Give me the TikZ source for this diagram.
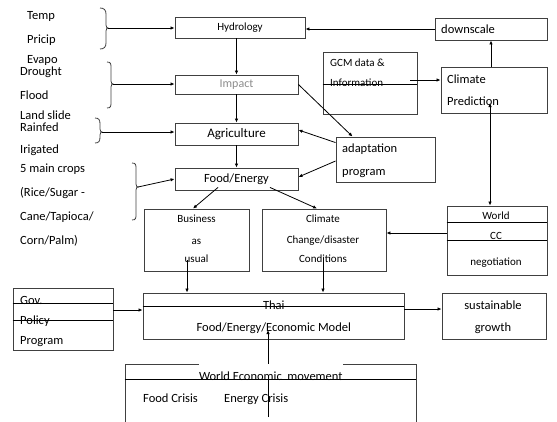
\documentclass[tikz,border=0pt]{standalone}
\usepackage{fontspec}
\setmainfont{Carlito}
\usetikzlibrary{arrows.meta,calc}
\newcommand\mkbrace[6]{% xleft, xtip, top, bottom, mid, name
  \draw[bracel] (#1,#3) .. controls ({#1+4},#3) and ({#2-2},{#3+2}) .. ({#2-2},{#3+6})
    -- ({#2-2},{#5-3}) .. controls ({#2-2},{#5-1}) and ({#2-1},#5) .. (#2,#5) coordinate (#6)
    .. controls ({#2-1},#5) and ({#2-2},{#5+1}) .. ({#2-2},{#5+3})
    -- ({#2-2},{#4-6}) .. controls ({#2-2},{#4-2}) and ({#1+4},#4) .. (#1,#4);}
\begin{document}
\begin{tikzpicture}[x=1pt,y=-1pt,
  box/.style={draw=black!75, line width=0.9pt, inner sep=0pt},
  arr/.style={draw=black, line width=0.8pt, -{Latex[length=4pt,width=3.5pt]}},
  arrb/.style={draw=black, line width=0.8pt, {Latex[length=4pt,width=3.5pt]}-{Latex[length=4pt,width=3.5pt]}},
  strike/.style={draw=black, line width=0.9pt},
  bracel/.style={draw=black!75, line width=0.8pt},
  big/.style={font=\fontsize{12.5}{14}\selectfont},
  sm/.style={font=\fontsize{11}{13}\selectfont},
  tl/.style={inner sep=0pt, anchor=base west, big},
  tc/.style={inner sep=0pt, anchor=base, big},
]
\useasboundingbox (0,0) rectangle (557,421);

% ---- left texts
\node[tl] (l1) at (27,19) {Temp};
\node[tl] (l2) at (27,43) {Pricip};
\node[tl] (l3) at (27,63.5) {Evapo};
\node[tl] (l4) at (20,75.5) {Drought};
\node[tl] (l5) at (20,99) {Flood};
\node[tl] (l6) at (20,119.5) {Land slide};
\node[tl] (l7) at (20,131) {Rainfed};
\node[tl] (l8) at (20,153) {Irigated};
\node[tl] (l9) at (20,172) {5 main crops};
\node[tl] (l10) at (20,196) {(Rice/Sugar -};
\node[tl] (l11) at (20,220) {Cane/Tapioca/};
\node[tl] (l12) at (20,244) {Corn/Palm)};

% ---- braces
\mkbrace{100}{108}{8}{49}{28}{b1}
\mkbrace{107}{113}{62}{108}{84}{b2}
\mkbrace{95}{102}{118}{143}{132}{b3}
\mkbrace{132}{138}{163}{220}{187}{b4}

% ---- boxes
\node[box, minimum width=130pt, minimum height=21pt, sm] (hyd) at (240,27.5) {Hydrology};
\node[box, minimum width=123pt, minimum height=19pt, text=black!45, font=\fontsize{12}{14}\selectfont] (imp) at (236.5,84.5) {Impact};
\node[box, minimum width=123pt, minimum height=22pt, font=\fontsize{13}{15}\selectfont] (agr) at (236.5,134) {Agriculture};
\node[box, minimum width=123pt, minimum height=22pt, big] (food) at (236.5,179) {Food/Energy};
\node[box, minimum width=105pt, minimum height=62pt] (bau) at (196.5,240) {};
\node[box, minimum width=124pt, minimum height=62pt] (ccd) at (324,240) {};
\node[box, minimum width=99pt, minimum height=45pt] (adp) at (385.5,159.5) {};
\node[box, minimum width=94pt, minimum height=62pt] (gcm) at (370,83) {};
\node[box, minimum width=106pt, minimum height=46pt] (cp) at (494,90) {};
\node[box, minimum width=112pt, minimum height=22pt] (down) at (491,29) {};
\node[box, minimum width=100pt, minimum height=69pt] (world) at (497,240.5) {};
\node[box, minimum width=100pt, minimum height=62pt] (gov) at (63,319) {};
\node[box, minimum width=261pt, minimum height=46pt] (thai) at (273.5,316) {};
\node[box, minimum width=104pt, minimum height=46pt] (sus) at (494,316) {};
\node[box, minimum width=291pt, minimum height=70pt, anchor=north] (wem) at (270.5,364) {};

% ---- texts inside boxes
\node[tc,sm] (t1) at (196.5,222.5) {Business};
\node[tc,sm] (t2) at (196.5,244.5) {as};
\node[tc,sm] (t3) at (196.5,262.5) {usual};
\node[tc,sm] (t4) at (323,222.5) {Climate};
\node[tc,sm] (t5) at (323,243.5) {Change/disaster};
\node[tc,sm] (t6) at (323,262.5) {Conditions};
\node[tl] (t7) at (342,152) {adaptation};
\node[tl] (t8) at (342,175) {program};
\node[tl,sm] (t9) at (330,66.5) {GCM data \&};
\node[tl,sm] (t10) at (330,86.5) {Information};
\node[tl] (t11) at (447,83) {Climate};
\node[tl] (t12) at (447,105) {Prediction};
\node[tl] (t13) at (441,33) {downscale};
\node[tc,sm] (t14) at (496,219.5) {World};
\node[tc,sm] (t15) at (496,239.5) {CC};
\node[tc,sm] (t16) at (496,265.5) {negotiation};
\node[tl] (t17) at (20,304) {Gov.};
\node[tl] (t18) at (20,324) {Policy};
\node[tl] (t19) at (20,344) {Program};
\node[tc] (t20) at (273.8,309) {Thai};
\node[tc] (t21) at (273.8,331) {Food/Energy/Economic Model};
\node[tc] (t22) at (493,309) {sustainable};
\node[tc] (t23) at (493,331) {growth};
\node[tl] (t25) at (143,402) {Food Crisis};
\node[tl] (t26) at (224,402) {Energy Crisis};

% ---- connectors
\draw[arr] (b1) -- (b1 -| hyd.west);
\draw[arr] (b2) -- (b2 -| imp.west);
\draw[arr] (b3) -- (b3 -| agr.west);
\draw[arr] (b4) -- (food.west);
\draw[arr] (hyd.south -| imp.north) -- (imp.north);
\draw[arr] (imp.south) -- (agr.north);
\draw[arr] (agr.south) -- (food.north);
\draw[arr] ($(food.south)+(-18.5,-3)$) -- ($(bau.north)+(-3.5,0)$);
\draw[arr] ($(food.south)+(33.5,-3)$) -- ($(ccd.north)+(-7,0)$);
\draw[arr] ($(adp.north west)+(0,6)$) -- ($(agr.east)+(0,-4)$);
\draw[arr] ($(adp.west)+(0,1.5)$) -- ($(food.east)+(0,-2)$);
\draw[arr] (imp.east) -- ($(adp.north west)+(17,0)$);
\draw[arr] ($(gcm.east)+(-7,-3)$) -- ($(cp.west)+(0,-10)$);
\draw[arr] (down.south |- cp.north) -- (down.south);
\draw[arr] (down.west) -- (down.west -| hyd.east);
\draw[arrb] ($(cp.center)+(-4,13)$) -- ($(world.north)+(-7,0)$);
\draw[arr] ($(world.west)+(0,-7.5)$) -- ($(ccd.east)+(0,-7)$);
\draw[arr] ($(gov.east)+(0,-9)$) -- ($(thai.west)+(0,-6)$);
\draw[arr] ($(bau.center)+(-9.5,20)$) -- ($(thai.north)+(-86.5,0)$);
\draw[arr] ($(ccd.center)+(-1,18)$) -- ($(thai.north)+(49.5,0)$);
\draw[arr] ($(thai.east)+(0,-7)$) -- ($(sus.west)+(0,-7)$);
\draw[arr] ($(wem.north)+(-2.5,53)$) -- ($(thai.center)+(-5.5,14)$);

\node[tc, fill=white, text height=16pt, text depth=0pt] (t24) at (270.8,380) {World Economic\ \ movement};

% ---- strike lines
\draw[strike] (gcm.west |- 0,84) -- (gcm.east |- 0,84);
\draw[strike] (world.west |- 0,222) -- (world.east |- 0,222);
\draw[strike] (world.west |- 0,240) -- (world.east |- 0,240);
\draw[strike] (gov.west |- 0,303) -- (gov.east |- 0,303);
\draw[strike] (gov.west |- 0,320) -- (gov.east |- 0,320);
\draw[strike] (thai.west |- 0,306) -- (thai.east |- 0,306);
\draw[strike] (wem.west |- 0,379) -- (wem.east |- 0,379);
\end{tikzpicture}
\end{document}
